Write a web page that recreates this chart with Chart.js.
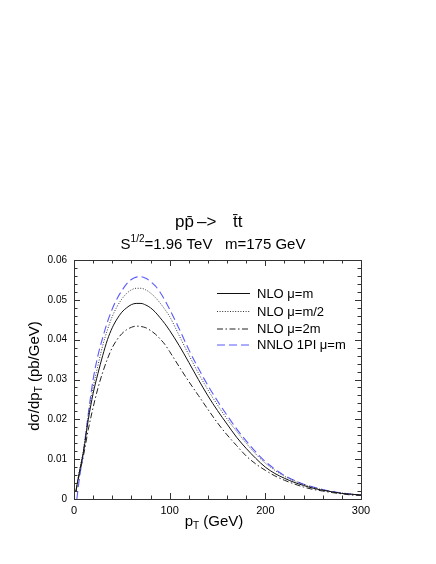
<!DOCTYPE html>
<html><head><meta charset="utf-8">
<script src="https://cdn.jsdelivr.net/npm/chart.js@4/dist/chart.umd.min.js"></script>
<style>html,body{margin:0;padding:0;background:#fff;}canvas{display:block;}</style>
</head><body>
<canvas id="c" width="436" height="564"></canvas>
<script>
// ---- data ----
const pT = [2,5,10,15,20,25,30,35,40,45,50,55,60,65,70,75,80,85,90,95,100,110,120,130,140,150,160,170,180,190,200,210,220,230,240,250,260,270,280,290,300];
const pTNNLO = [3,5,10,15,20,25,30,35,40,45,50,55,60,65,70,75,80,85,90,95,100,110,120,130,140,150,160,170,180,190,200,210,220,230,240,250,260,270,280,290,300];
const nloMuM = [0.0020,0.0060,0.0120,0.0200,0.0265,0.0315,0.0360,0.0400,0.0430,0.0452,
  0.0469,0.0480,0.0488,0.0491,0.0491,0.0487,0.0480,0.0469,0.0455,0.0440,
  0.0423,0.0385,0.0343,0.0300,0.0259,0.0222,0.0188,0.0155,0.0127,0.0102,
  0.0080,0.0064,0.0052,0.0042,0.0034,0.0027,0.0022,0.0018,0.0014,0.0012,0.0010];
const nloMuHalf = [0.0020,0.0062,0.0125,0.0210,0.0280,0.0335,0.0385,0.0425,0.0458,0.0483,
  0.0502,0.0516,0.0525,0.0529,0.0529,0.0525,0.0517,0.0506,0.0492,0.0476,
  0.0458,0.0410,0.0362,0.0316,0.0274,0.0236,0.0201,0.0170,0.0140,0.0113,
  0.0090,0.0072,0.0057,0.0046,0.0037,0.0029,0.0023,0.0018,0.0015,0.0012,0.0010];
const nloMu2m = [0.0018,0.0055,0.0110,0.0175,0.0230,0.0278,0.0318,0.0352,0.0380,0.0400,
  0.0415,0.0425,0.0431,0.0434,0.0433,0.0430,0.0423,0.0414,0.0402,0.0388,
  0.0370,0.0332,0.0295,0.0260,0.0225,0.0191,0.0161,0.0134,0.0108,0.0088,
  0.0072,0.0058,0.0047,0.0038,0.0030,0.0024,0.0020,0.0016,0.0013,0.0010,0.0009];
const nnlo1PI = [0.0000,0.0040,0.0120,0.0215,0.0300,0.0360,0.0405,0.0445,0.0477,0.0503,
  0.0523,0.0540,0.0551,0.0557,0.0558,0.0554,0.0546,0.0535,0.0519,0.0499,
  0.0476,0.0427,0.0375,0.0328,0.0285,0.0246,0.0210,0.0176,0.0146,0.0118,
  0.0094,0.0075,0.0059,0.0047,0.0037,0.0030,0.0024,0.0019,0.0015,0.0012,0.0010];
const seriesNames = ['NLO \u03bc=m','NLO \u03bc=m/2','NLO \u03bc=2m','NNLO 1PI \u03bc=m'];
const xTickLabels = ['0','100','200','300'];
const yTickLabels = ['0','0.01','0.02','0.03','0.04','0.05','0.06'];
const xMinorTicks = [0,20,40,60,80,100,120,140,160,180,200,220,240,260,280,300];
const yMinorTicks = [0,0.002,0.004,0.006,0.008,0.01,0.012,0.014,0.016,0.018,0.02,0.022,0.024,0.026,0.028,0.03,0.032,0.034,0.036,0.038,0.04,0.042,0.044,0.046,0.048,0.05,0.052,0.054,0.056,0.058,0.06];
const xMajorTicks = [0,100,200,300];
const yMajorTicks = [0,0.01,0.02,0.03,0.04,0.05,0.06];

const FONT = '"Liberation Sans", Arial, Helvetica, sans-serif';
const styles = [
  {color:'#111', dash:[], width:1},
  {color:'#333', dash:[1,1.6], width:1},
  {color:'#222', dash:[6,2.5,1.5,2.5], width:1},
  {color:'#5a5aff', dash:[8,4], width:1.1}
];
function pts(xs, ys){ return xs.map((x,i)=>({x:x, y:ys[i]})); }
const allData = [pts(pT,nloMuM), pts(pT,nloMuHalf), pts(pT,nloMu2m), pts(pTNNLO,nnlo1PI)];

const decor = {
  id:'decor',
  afterDraw(chart){
    const ctx = chart.ctx, xs = chart.scales.x, ys = chart.scales.y, a = chart.chartArea;
    ctx.save();
    // frame
    ctx.strokeStyle = '#333'; ctx.lineWidth = 1; ctx.setLineDash([]);
    ctx.strokeRect(Math.round(a.left)+0.5, Math.round(a.top)+0.5, Math.round(a.right-a.left), Math.round(a.bottom-a.top));
    // ticks (inside, all four sides)
    ctx.beginPath();
    const isMaj = (v, arr) => arr.some(m => Math.abs(m-v) < 1e-9);
    xMinorTicks.forEach(v => {
      const px = Math.round(xs.getPixelForValue(v))+0.5;
      const L = isMaj(v, xMajorTicks) ? 6 : 3.5;
      ctx.moveTo(px, a.bottom); ctx.lineTo(px, a.bottom - L);
      ctx.moveTo(px, a.top); ctx.lineTo(px, a.top + L);
    });
    yMinorTicks.forEach(v => {
      const py = Math.round(ys.getPixelForValue(v))+0.5;
      const L = isMaj(v, yMajorTicks) ? 6 : 3.5;
      ctx.moveTo(a.left, py); ctx.lineTo(a.left + L, py);
      ctx.moveTo(a.right, py); ctx.lineTo(a.right - L, py);
    });
    ctx.stroke();

    ctx.fillStyle = '#000';
    // title line 1
    ctx.font = '17px ' + FONT;
    ctx.textBaseline = 'alphabetic';
    ctx.textAlign = 'left';
    ctx.fillText('pp\u0304', 175, 227);
    ctx.fillText('\u2013>', 197, 227);
    ctx.fillText('t\u0304t', 233, 227);
    // title line 2 with superscript
    ctx.font = '15px ' + FONT;
    const s = 'S', rest = '=1.96 TeV   m=175 GeV';
    const wS = ctx.measureText(s).width, wR = ctx.measureText(rest).width;
    ctx.font = '10px ' + FONT;
    const sup = '1/2', wSup = ctx.measureText(sup).width;
    const tot = wS + wSup + wR;
    let x0 = 213 - tot/2;
    ctx.font = '15px ' + FONT;
    ctx.fillText(s, x0, 249);
    ctx.font = '10px ' + FONT;
    ctx.fillText(sup, x0 + wS, 242);
    ctx.font = '15px ' + FONT;
    ctx.fillText(rest, x0 + wS + wSup, 249);

    // x axis title
    ctx.font = '15px ' + FONT;
    const p = 'p', tail = ' (GeV)';
    const wp = ctx.measureText(p).width, wt = ctx.measureText(tail).width;
    ctx.font = '10px ' + FONT;
    const wT = ctx.measureText('T').width;
    let xx = 214 - (wp + wT + wt)/2;
    ctx.font = '15px ' + FONT; ctx.fillText(p, xx, 526);
    ctx.font = '10px ' + FONT; ctx.fillText('T', xx + wp, 529);
    ctx.font = '15px ' + FONT; ctx.fillText(tail, xx + wp + wT, 526);

    // y axis title (rotated)
    ctx.save();
    ctx.translate(39, 376);
    ctx.rotate(-Math.PI/2);
    ctx.font = '15px ' + FONT;
    const ya = 'd\u03c3/dp', yb = ' (pb/GeV)';
    const wa = ctx.measureText(ya).width, wb = ctx.measureText(yb).width;
    ctx.font = '10px ' + FONT;
    const wT2 = ctx.measureText('T').width;
    let yx = -(wa + wT2 + wb)/2;
    ctx.font = '15px ' + FONT; ctx.fillText(ya, yx, 0);
    ctx.font = '10px ' + FONT; ctx.fillText('T', yx + wa, 3);
    ctx.font = '15px ' + FONT; ctx.fillText(yb, yx + wa + wT2, 0);
    ctx.restore();

    // legend
    const rows = [293, 311, 328.5, 344.5];
    ctx.font = '13px ' + FONT;
    ctx.textBaseline = 'middle';
    seriesNames.forEach((n, i) => {
      const st = styles[i];
      ctx.beginPath();
      ctx.strokeStyle = st.color; ctx.lineWidth = st.width; ctx.setLineDash(st.dash);
      ctx.moveTo(217, rows[i] + 0.5); ctx.lineTo(250, rows[i] + 0.5);
      ctx.stroke();
      ctx.setLineDash([]);
      ctx.fillStyle = '#000';
      ctx.fillText(n, 257, rows[i] + 1);
    });
    ctx.restore();
  }
};

new Chart(document.getElementById('c'), {
  type: 'line',
  data: {
    datasets: allData.map((d, i) => ({
      label: seriesNames[i],
      data: d,
      borderColor: styles[i].color,
      borderWidth: styles[i].width,
      borderDash: styles[i].dash,
      pointRadius: 0,
      fill: false,
      cubicInterpolationMode: 'monotone'
    }))
  },
  options: {
    responsive: false,
    animation: false,
    events: [],
    layout: { padding: { left: 0, top: 260, right: 75, bottom: 0 }, autoPadding: false },
    plugins: { legend: { display: false }, title: { display: false }, tooltip: { enabled: false } },
    scales: {
      x: {
        type: 'linear', min: 0, max: 300,
        grid: { display: false, drawTicks: false },
        border: { display: false },
        afterFit: s => { s.height = 65; },
        afterBuildTicks: s => { s.ticks = xMajorTicks.map(v => ({ value: v })); },
        ticks: {
          padding: 5, color: '#000', maxRotation: 0,
          font: { family: FONT, size: 11 },
          callback: (v) => xTickLabels[xMajorTicks.indexOf(v)]
        }
      },
      y: {
        type: 'linear', min: 0, max: 0.06,
        grid: { display: false, drawTicks: false },
        border: { display: false },
        afterFit: s => { s.width = 74; },
        afterBuildTicks: s => { s.ticks = yMajorTicks.map(v => ({ value: v })); },
        ticks: {
          padding: 7, color: '#000',
          font: { family: FONT, size: 10 },
          callback: (v) => { const i = yMajorTicks.findIndex(m => Math.abs(m - v) < 1e-9); return yTickLabels[i]; }
        }
      }
    }
  },
  plugins: [decor]
});
</script>
</body></html>
